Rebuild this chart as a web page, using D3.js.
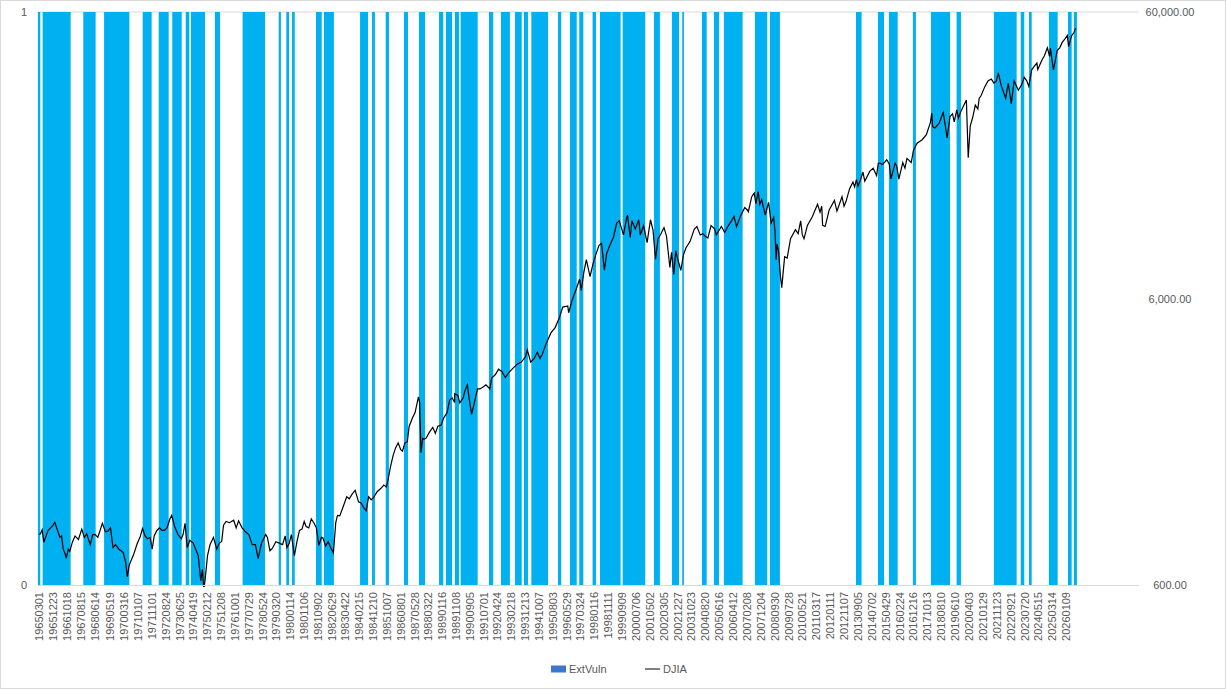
<!DOCTYPE html>
<html>
<head>
<meta charset="utf-8">
<script src="https://cdn.jsdelivr.net/npm/d3@7"></script>
<style>
  body { margin: 0; background: #fff; }
  text { font-family: "Liberation Sans", Arial, sans-serif; fill: #595959; }
</style>
</head>
<body>
<div class="chart"></div>
<script>
// category labels shown on the x axis (yyyymmdd)
var tickLabels = ["19650301","19651223","19661018","19670815","19680614","19690519","19700316","19710107",
  "19711101","19720824","19730625","19740419","19750212","19751208","19761001","19770729","19780524",
  "19790320","19800114","19801106","19810902","19820629","19830422","19840215","19841210","19851007",
  "19860801","19870528","19880322","19890116","19891108","19900905","19910701","19920424","19930218",
  "19931213","19941007","19950803","19960529","19970324","19980116","19981111","19990909","20000706",
  "20010502","20020305","20021227","20031023","20040820","20050616","20060412","20070208","20071204",
  "20080930","20090728","20100521","20110317","20120111","20121107","20130905","20140702","20150429",
  "20160224","20161216","20171013","20180810","20190610","20200403","20210129","20211123","20220921",
  "20230720","20240515","20250314","20260109"];

// ExtVuln = 1 periods (decimal years), 0 elsewhere
var vulnStart = [1965.10,1965.38,1967.79,1969.02,1971.31,1972.26,1973.06,1973.86,1974.17,1975.59,
  1977.23,1979.37,1979.82,1980.16,1981.58,1982.05,1984.19,1984.90,1985.71,1986.79,1987.68,1988.87,
  1989.28,1989.81,1990.15,1991.83,1992.54,1993.37,1993.90,1994.34,1995.92,1996.63,1997.18,1997.97,
  1998.41,1999.75,2001.61,2002.67,2003.28,2004.45,2005.16,2005.75,2007.59,2008.48,2013.58,2014.88,
  2015.53,2016.95,2018.02,2019.54,2021.75,2023.34,2023.83,2025.01,2026.14,2026.49];
var vulnEnd = [1965.24,1967.04,1968.52,1970.52,1971.84,1972.85,1973.62,1974.07,1975.00,1975.89,
  1978.56,1979.50,1979.98,1980.32,1981.92,1982.64,1984.66,1985.07,1985.90,1987.03,1988.04,1989.12,
  1989.64,1990.05,1991.16,1992.08,1993.07,1993.77,1994.14,1995.33,1996.11,1997.03,1997.42,1998.17,
  1999.63,2001.09,2001.96,2003.09,2003.38,2004.73,2005.46,2006.86,2008.32,2009.07,2013.91,2015.24,
  2016.05,2017.13,2019.15,2019.80,2023.10,2023.55,2023.99,2025.53,2026.36,2026.67];

// DJIA close [decimal year, value]
var djia = [
  [1965.16,900],[1965.25,905],[1965.35,935],[1965.45,845],[1965.55,880],[1965.70,930],[1965.85,950],
  [1965.99,969],[1966.10,992],[1966.25,935],[1966.40,880],[1966.50,890],[1966.60,800],[1966.70,775],
  [1966.78,744],[1966.90,800],[1966.99,786],[1967.15,850],[1967.30,890],[1967.50,865],[1967.70,940],
  [1967.85,880],[1967.99,905],[1968.20,830],[1968.35,900],[1968.50,900],[1968.65,880],[1968.92,985],
  [1969.10,920],[1969.25,925],[1969.40,950],[1969.55,810],[1969.70,830],[1969.90,800],[1970.15,780],
  [1970.30,720],[1970.40,640],[1970.50,700],[1970.62,730],[1970.75,760],[1970.99,839],[1971.15,880],
  [1971.30,945],[1971.45,890],[1971.60,870],[1971.75,880],[1971.87,800],[1971.99,890],[1972.15,930],
  [1972.30,950],[1972.45,930],[1972.60,930],[1972.75,950],[1972.92,1020],[1973.03,1050],[1973.20,960],
  [1973.40,900],[1973.60,870],[1973.70,900],[1973.82,985],[1973.95,810],[1974.10,860],[1974.30,840],
  [1974.45,800],[1974.60,760],[1974.75,620],[1974.85,680],[1974.93,580],[1975.00,620],[1975.15,760],
  [1975.30,830],[1975.50,880],[1975.70,800],[1975.85,840],[1975.99,852],[1976.10,970],[1976.25,1000],
  [1976.45,990],[1976.70,1010],[1976.85,950],[1976.99,1005],[1977.20,950],[1977.40,920],[1977.60,900],
  [1977.80,830],[1977.99,830],[1978.15,742],[1978.35,840],[1978.60,900],[1978.70,880],[1978.85,790],
  [1978.99,805],[1979.20,850],[1979.40,840],[1979.60,830],[1979.75,890],[1979.85,810],[1979.99,838],
  [1980.12,900],[1980.30,760],[1980.45,850],[1980.60,930],[1980.75,940],[1980.88,1000],[1980.99,960],
  [1981.15,950],[1981.30,1020],[1981.45,990],[1981.60,950],[1981.75,825],[1981.90,880],[1981.99,875],
  [1982.15,820],[1982.30,850],[1982.45,810],[1982.61,777],[1982.75,990],[1982.85,1050],[1982.99,1046],
  [1983.15,1110],[1983.40,1220],[1983.55,1200],[1983.70,1240],[1983.90,1285],[1984.10,1170],
  [1984.25,1160],[1984.40,1120],[1984.55,1090],[1984.70,1220],[1984.85,1190],[1984.99,1211],
  [1985.20,1270],[1985.40,1300],[1985.60,1340],[1985.75,1320],[1985.85,1400],[1985.99,1546],
  [1986.15,1700],[1986.30,1810],[1986.45,1880],[1986.60,1780],[1986.70,1760],[1986.85,1880],
  [1986.99,1895],[1987.10,2150],[1987.30,2300],[1987.45,2400],[1987.65,2722],[1987.72,2600],
  [1987.80,1740],[1987.90,1950],[1987.99,1938],[1988.10,1950],[1988.30,2050],[1988.50,2130],
  [1988.65,2030],[1988.80,2150],[1988.99,2168],[1989.15,2300],[1989.35,2400],[1989.50,2650],
  [1989.65,2700],[1989.79,2600],[1989.80,2790],[1989.99,2753],[1990.10,2590],[1990.30,2700],
  [1990.40,2850],[1990.55,2999],[1990.65,2700],[1990.80,2365],[1990.99,2633],[1991.15,2900],
  [1991.30,2900],[1991.50,2950],[1991.65,3000],[1991.88,2900],[1991.99,3168],[1992.20,3250],
  [1992.40,3400],[1992.60,3330],[1992.80,3180],[1992.99,3301],[1993.20,3400],[1993.50,3540],
  [1993.75,3600],[1993.99,3754],[1994.10,3970],[1994.30,3600],[1994.50,3700],[1994.70,3900],
  [1994.85,3700],[1994.99,3834],[1995.20,4150],[1995.50,4550],[1995.75,4750],[1995.99,5117],
  [1996.20,5600],[1996.50,5650],[1996.55,5350],[1996.75,5900],[1996.99,6448],[1997.20,7000],
  [1997.30,6400],[1997.45,7400],[1997.60,8200],[1997.70,7700],[1997.82,7160],[1997.99,7908],
  [1998.15,8500],[1998.35,9200],[1998.50,9338],[1998.67,7539],[1998.80,8600],[1998.99,9181],
  [1999.20,9800],[1999.40,11000],[1999.55,11200],[1999.80,10000],[1999.99,11497],[2000.04,11723],
  [2000.20,9796],[2000.30,11200],[2000.50,10500],[2000.70,11300],[2000.80,10000],[2000.99,10787],
  [2001.20,9400],[2001.40,11300],[2001.55,10400],[2001.70,8236],[2001.85,9700],[2001.99,10021],
  [2002.20,10600],[2002.35,9900],[2002.55,7700],[2002.65,8700],[2002.78,7286],[2002.90,8800],
  [2002.99,8342],[2003.20,7524],[2003.35,8500],[2003.50,9000],[2003.75,9500],[2003.99,10454],
  [2004.15,10700],[2004.35,10000],[2004.50,10100],[2004.65,9900],[2004.80,9750],[2004.99,10783],
  [2005.20,10500],[2005.30,10000],[2005.60,10700],[2005.80,10200],[2005.99,10718],[2006.20,11200],
  [2006.35,11600],[2006.50,10700],[2006.75,11700],[2006.99,12463],[2007.15,12200],[2007.20,12050],
  [2007.40,13600],[2007.55,14000],[2007.65,12850],[2007.78,14165],[2007.88,12800],[2007.99,13265],
  [2008.20,11740],[2008.40,13000],[2008.55,11000],[2008.70,11500],[2008.78,10300],[2008.85,8200],
  [2008.90,9300],[2008.99,8776],[2009.10,7200],[2009.18,6547],[2009.35,8400],[2009.50,8300],
  [2009.70,9700],[2009.99,10428],[2010.15,10100],[2010.30,11200],[2010.40,10000],[2010.50,9700],
  [2010.70,10800],[2010.99,11578],[2011.30,12800],[2011.45,12000],[2011.55,12600],[2011.60,10800],
  [2011.75,10700],[2011.99,12218],[2012.30,13200],[2012.45,12100],[2012.75,13600],[2012.87,12600],
  [2012.99,13104],[2013.20,14500],[2013.40,15300],[2013.50,14700],[2013.60,15600],[2013.70,14800],
  [2013.85,15600],[2013.99,16577],[2014.10,15400],[2014.40,16700],[2014.60,17100],[2014.80,16100],
  [2014.90,17800],[2014.99,17823],[2015.15,17600],[2015.40,18300],[2015.55,17700],[2015.65,15700],
  [2015.90,17800],[2015.99,17425],[2016.12,15660],[2016.35,17900],[2016.48,17100],[2016.60,18500],
  [2016.85,17900],[2016.99,19763],[2017.20,20900],[2017.50,21500],[2017.75,22400],[2017.99,24719],
  [2018.07,26600],[2018.12,23900],[2018.25,23600],[2018.50,24500],[2018.75,26800],[2018.85,24500],
  [2018.98,21800],[2019.15,25900],[2019.30,26500],[2019.40,24800],[2019.55,27300],[2019.65,25600],
  [2019.80,27000],[2019.99,28538],[2020.12,29551],[2020.23,18592],[2020.35,24000],[2020.50,25800],
  [2020.65,28400],[2020.80,27500],[2020.88,30000],[2020.99,30606],[2021.20,32800],[2021.40,34500],
  [2021.60,35000],[2021.75,33900],[2021.90,34500],[2021.99,36338],[2022.01,36800],[2022.20,33000],
  [2022.45,30000],[2022.60,33900],[2022.78,28726],[2022.95,34500],[2023.20,32000],[2023.40,33500],
  [2023.55,35500],[2023.70,34500],[2023.82,33000],[2023.99,37690],[2024.15,38800],[2024.30,39800],
  [2024.35,37800],[2024.60,40800],[2024.75,42300],[2024.92,45000],[2025.05,42000],[2025.10,44800],
  [2025.28,37645],[2025.50,44000],[2025.65,45000],[2025.80,47000],[2025.95,48200],[2026.10,49700],
  [2026.18,45400],[2026.35,49500],[2026.50,51000],[2026.60,52700]];

var leftTicks = [0, 1];
var rightTicks = [600, 6000, 60000];

var W = 1226, H = 689,
    plot = {left: 38, right: 1139, top: 12, bottom: 585};

var parse = d3.timeParse("%Y%m%d");
function toYear(s) {
  var d = parse(s), y = d.getFullYear();
  return y + (d - new Date(y, 0, 1)) / (new Date(y + 1, 0, 1) - new Date(y, 0, 1));
}

var svg = d3.select(".chart").append("svg").attr("width", W).attr("height", H);

svg.append("rect").attr("x", 0.5).attr("y", 0.5).attr("width", W - 1).attr("height", H - 1)
   .attr("fill", "#fff").attr("stroke", "#d9d9d9");

var x = d3.scaleLinear().domain([1965.105, 2030.35]).range([plot.left, plot.right]);
var yL = d3.scaleLinear().domain([0, 1]).range([plot.bottom, plot.top]);
var yR = d3.scaleLog().domain([600, 60000]).range([plot.bottom, plot.top]);

// top gridline
svg.append("line").attr("x1", plot.left).attr("x2", plot.right)
   .attr("y1", yL(1)).attr("y2", yL(1)).attr("stroke", "#d9d9d9");

// bars
svg.append("g").selectAll("rect")
  .data(vulnStart.map((s, i) => ({s: s, e: vulnEnd[i]})))
  .enter().append("rect")
    .attr("x", d => x(d.s))
    .attr("width", d => Math.max(1, x(d.e) - x(d.s)))
    .attr("y", yL(1))
    .attr("height", yL(0) - yL(1))
    .attr("fill", "#00b0f0");

// DJIA line
svg.append("clipPath").attr("id", "clip").append("rect")
   .attr("x", plot.left).attr("y", plot.top)
   .attr("width", plot.right - plot.left).attr("height", plot.bottom - plot.top + 2);
svg.append("path")
   .datum(djia)
   .attr("clip-path", "url(#clip)")
   .attr("fill", "none").attr("stroke", "#000").attr("stroke-width", 1.2)
   .attr("d", d3.line().x(d => x(d[0])).y(d => yR(d[1])));

// x axis
var xAxis = svg.append("g").attr("transform", `translate(0,${plot.bottom})`)
  .call(d3.axisBottom(x).tickValues(tickLabels.map(toYear)).tickSize(0)
        .tickFormat((d, i) => tickLabels[i]));
xAxis.select(".domain").attr("stroke", "#d9d9d9").attr("d", `M${plot.left},0.5H${plot.right}`);
xAxis.selectAll("text")
  .attr("transform", "rotate(-90)")
  .attr("x", -7).attr("y", 0).attr("dy", "0.35em")
  .attr("text-anchor", "end")
  .style("font-size", "11px").style("fill", "#595959");

// left axis
var lAxis = svg.append("g").attr("transform", `translate(${plot.left},0)`)
  .call(d3.axisLeft(yL).tickValues(leftTicks).tickSize(0).tickFormat(d3.format("d")));
lAxis.select(".domain").remove();
lAxis.selectAll("text").attr("x", -11).style("font-size", "11px").style("fill", "#595959");

// right axis
var rAxis = svg.append("g").attr("transform", `translate(${plot.right},0)`)
  .call(d3.axisRight(yR).tickValues(rightTicks).tickSize(0).tickFormat(d3.format(",.2f")));
rAxis.select(".domain").remove();
rAxis.selectAll("text").attr("x", 31).attr("text-anchor", "middle")
  .style("font-size", "11px").style("fill", "#595959");

// legend
var lg = svg.append("g").attr("transform", "translate(551,669)");
lg.append("rect").attr("x", 0).attr("y", -3.5).attr("width", 15).attr("height", 7).attr("fill", "#3a78d0");
lg.append("text").attr("x", 18).attr("y", 0).attr("dy", "0.35em").style("font-size", "11px").text("ExtVuln");
lg.append("line").attr("x1", 94).attr("x2", 109).attr("y1", 0).attr("y2", 0).attr("stroke", "#000");
lg.append("text").attr("x", 112).attr("y", 0).attr("dy", "0.35em").style("font-size", "11px").text("DJIA");
</script>
</body>
</html>
